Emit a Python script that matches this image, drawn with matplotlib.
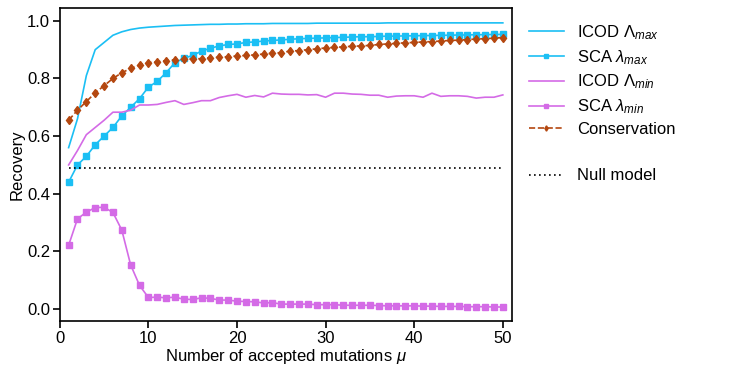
import matplotlib
matplotlib.use("Agg")
import matplotlib.pyplot as plt
import numpy as np

plt.rcParams['font.family'] = ['Liberation Sans', 'DejaVu Sans']
plt.rcParams['mathtext.fontset'] = 'custom'
plt.rcParams['mathtext.rm'] = 'Liberation Sans'
plt.rcParams['mathtext.it'] = 'Liberation Sans:italic'

mu = list(range(1, 51))

icod_max = [0.56, 0.66, 0.81, 0.90, 0.925, 0.95, 0.962, 0.97, 0.975, 0.978,
            0.980, 0.982, 0.984, 0.985, 0.986, 0.987, 0.988, 0.988, 0.989, 0.989,
            0.990, 0.990, 0.990, 0.991, 0.991, 0.991, 0.991, 0.991, 0.992, 0.992,
            0.992, 0.992, 0.992, 0.992, 0.992, 0.992, 0.993, 0.993, 0.993, 0.993,
            0.993, 0.993, 0.993, 0.993, 0.993, 0.993, 0.993, 0.993, 0.993, 0.993]

sca_max = [0.44, 0.50, 0.53, 0.57, 0.60, 0.63, 0.67, 0.70, 0.73, 0.77,
           0.79, 0.82, 0.855, 0.87, 0.88, 0.895, 0.905, 0.913, 0.918, 0.92,
           0.925, 0.927, 0.93, 0.932, 0.934, 0.936, 0.938, 0.939, 0.940, 0.941,
           0.942, 0.943, 0.944, 0.945, 0.945, 0.946, 0.947, 0.947, 0.948, 0.948,
           0.949, 0.949, 0.950, 0.950, 0.951, 0.951, 0.952, 0.952, 0.953, 0.953]

icod_min = [0.50, 0.55, 0.605, 0.63, 0.655, 0.683, 0.683, 0.69, 0.708, 0.708,
            0.71, 0.717, 0.723, 0.71, 0.716, 0.723, 0.723, 0.734, 0.74, 0.745,
            0.735, 0.741, 0.736, 0.749, 0.746, 0.745, 0.745, 0.743, 0.744, 0.735,
            0.749, 0.749, 0.746, 0.745, 0.742, 0.742, 0.735, 0.739, 0.740, 0.740,
            0.735, 0.749, 0.738, 0.740, 0.740, 0.738, 0.732, 0.735, 0.735, 0.743]

sca_min = [0.221, 0.313, 0.336, 0.352, 0.353, 0.335, 0.274, 0.153, 0.082, 0.040,
           0.041, 0.039, 0.041, 0.034, 0.033, 0.039, 0.037, 0.031, 0.031, 0.027,
           0.026, 0.025, 0.021, 0.022, 0.017, 0.017, 0.017, 0.017, 0.015, 0.015,
           0.015, 0.013, 0.013, 0.013, 0.013, 0.012, 0.011, 0.011, 0.011, 0.011,
           0.010, 0.010, 0.009, 0.009, 0.009, 0.008, 0.008, 0.008, 0.007, 0.007]

conservation = [0.655, 0.69, 0.72, 0.75, 0.775, 0.80, 0.82, 0.835, 0.847, 0.855,
                0.858, 0.862, 0.865, 0.867, 0.868, 0.869, 0.872, 0.874, 0.876, 0.878,
                0.880, 0.882, 0.885, 0.888, 0.890, 0.895, 0.897, 0.900, 0.903, 0.906,
                0.908, 0.910, 0.912, 0.913, 0.915, 0.918, 0.920, 0.922, 0.924, 0.925,
                0.927, 0.928, 0.930, 0.932, 0.933, 0.935, 0.937, 0.938, 0.940, 0.942]

null_model = 0.49

cyan = '#1BBFF4'
violet = '#D46BE6'
brown = '#B4470F'

FS = 12

fig = plt.figure(figsize=(7.47, 3.76), dpi=100)
ax = fig.add_axes([0.080, 0.146, 0.605, 0.833])

ax.plot(mu, icod_max, color=cyan, lw=1.2, label=r'ICOD $\Lambda_{max}$')
ax.plot(mu, sca_max, color=cyan, lw=1.2, marker='s', ms=4.5, label=r'SCA $\lambda_{max}$')
ax.plot(mu, icod_min, color=violet, lw=1.2, label=r'ICOD $\Lambda_{min}$')
ax.plot(mu, sca_min, color=violet, lw=1.2, marker='s', ms=4.5, label=r'SCA $\lambda_{min}$')
ax.plot(mu, conservation, color=brown, lw=1.2, ls='--', marker='d', ms=4.5, label='Conservation')
ax.plot([1, 50], [null_model, null_model], color='black', lw=1.2, ls=(0, (1, 2)), label='Null model')

ax.set_xlim(0, 51)
ax.set_ylim(-0.042, 1.045)
ax.set_xticks([0, 10, 20, 30, 40, 50])
ax.set_yticks([0.0, 0.2, 0.4, 0.6, 0.8, 1.0])
ax.set_yticklabels(['0.0', '0.2', '0.4', '0.6', '0.8', '1.0'])
ax.tick_params(labelsize=FS, width=1.2, length=5, direction='out', pad=2)
for s in ax.spines.values():
    s.set_linewidth(1.2)

ax.set_xlabel(r'Number of accepted mutations $\mu$', fontsize=FS, labelpad=1)
ax.set_ylabel('Recovery', fontsize=FS, labelpad=2)

handles, labels = ax.get_legend_handles_labels()
legkw = dict(frameon=False, fontsize=FS, handlelength=2.1, labelspacing=0.36,
             handletextpad=0.78, markerscale=0.6)
leg1 = fig.legend(handles[:5], labels[:5], loc='upper left',
                  bbox_to_anchor=(0.688, 0.978), **legkw)
leg2 = fig.legend(handles[5:], labels[5:], loc='center left',
                  bbox_to_anchor=(0.688, 1 - 176 / 376), **legkw)

fig.savefig('out.png', dpi=100)
